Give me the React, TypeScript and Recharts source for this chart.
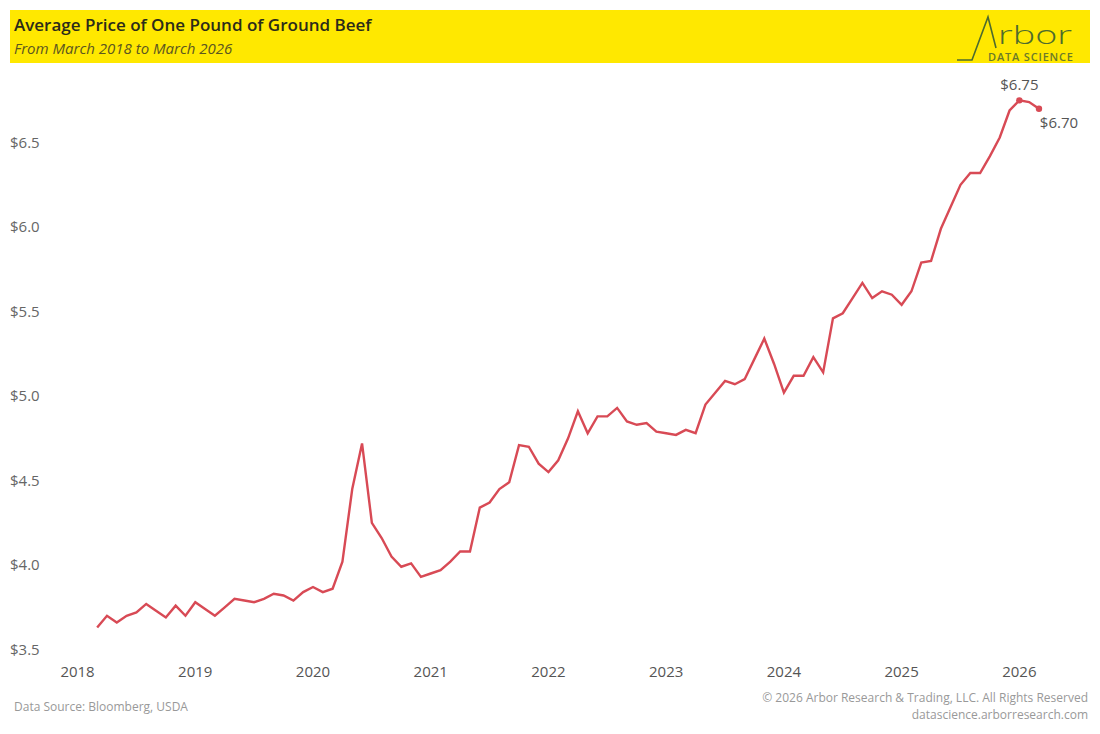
import { LabelList, Line, LineChart, XAxis, YAxis } from 'recharts'

// monthly average price, $ per lb
const p2018 = [3.63, 3.7, 3.66, 3.7, 3.72, 3.77, 3.73, 3.69, 3.76, 3.7] // Mar-Dec
const p2019 = [3.78, 3.74, 3.7, 3.75, 3.8, 3.79, 3.78, 3.8, 3.83, 3.82, 3.79, 3.84]
const p2020 = [3.87, 3.84, 3.86, 4.02, 4.45, 4.72, 4.25, 4.16, 4.05, 3.99, 4.01, 3.93]
const p2021 = [3.95, 3.97, 4.02, 4.08, 4.08, 4.34, 4.37, 4.45, 4.49, 4.71, 4.7, 4.6]
const p2022 = [4.55, 4.62, 4.75, 4.91, 4.78, 4.88, 4.88, 4.93, 4.85, 4.83, 4.84, 4.79]
const p2023 = [4.78, 4.77, 4.8, 4.78, 4.95, 5.02, 5.09, 5.07, 5.1, 5.22, 5.34, 5.19]
const p2024 = [5.02, 5.12, 5.12, 5.23, 5.14, 5.46, 5.49, 5.58, 5.67, 5.58, 5.62, 5.6]
const p2025 = [5.54, 5.62, 5.79, 5.8, 5.99, 6.12, 6.25, 6.32, 6.32, 6.42, 6.53, 6.69]
const p2026 = [6.75, 6.74, 6.7] // Jan-Mar

const xTicks = [2018, 2019, 2020, 2021, 2022, 2023, 2024, 2025, 2026]
const yTicks = [3.5, 4.0, 4.5, 5.0, 5.5, 6.0, 6.5]

const years: [number, number, number[]][] = [
  [2018, 3, p2018],
  [2019, 1, p2019],
  [2020, 1, p2020],
  [2021, 1, p2021],
  [2022, 1, p2022],
  [2023, 1, p2023],
  [2024, 1, p2024],
  [2025, 1, p2025],
  [2026, 1, p2026],
]

const data = years.flatMap(([yr, start, vals]) =>
  vals.map((v, i) => ({ t: yr + (start - 1 + i) / 12, price: v })),
)

const maxIdx = data.reduce((m, d, i) => (d.price > data[m].price ? i : m), 0)
const lastIdx = data.length - 1

const red = '#d84a55'
const green = '#4d6b2e'
const font = '"Open Sans", "Noto Sans", sans-serif'

function EndDot(props: any) {
  const { cx, cy, index } = props
  if (index !== maxIdx && index !== lastIdx) return <g key={index} />
  return <circle key={index} cx={cx} cy={cy} r={3.2} fill={red} />
}

function EndLabel(props: any) {
  const { x, y, index, value } = props
  if (index === maxIdx)
    return (
      <text x={x} y={y - 10} textAnchor="middle" fontSize={15} fill="#555" fontFamily={font}>
        ${value.toFixed(2)}
      </text>
    )
  if (index === lastIdx)
    return (
      <text x={x + 20} y={y + 19} textAnchor="middle" fontSize={15} fill="#555" fontFamily={font}>
        ${value.toFixed(2)}
      </text>
    )
  return null
}

function YTick(props: any) {
  const { y, payload } = props
  return (
    <text x={10} y={y + 5} textAnchor="start" fontSize={15} fill="#666" fontFamily={font}>
      ${payload.value.toFixed(1)}
    </text>
  )
}

export default function App() {
  return (
    <div style={{ position: 'absolute', left: 0, top: 0, width: 1100, height: 734, background: '#fff', fontFamily: font }}>
      <div style={{ position: 'absolute', left: 10, top: 10, width: 1080, height: 53, background: '#ffe800' }} />
      <div style={{ position: 'absolute', left: 14, top: 13, fontSize: 17, fontWeight: 600, color: '#2b2b1a' }}>
        Average Price of One Pound of Ground Beef
      </div>
      <div style={{ position: 'absolute', left: 14, top: 38, fontSize: 15, fontStyle: 'italic', color: '#5c5620' }}>
        From March 2018 to March 2026
      </div>
      <svg style={{ position: 'absolute', left: 950, top: 10 }} width={140} height={53}>
        <polyline points="7,50 22,50 38,7 46,38" fill="none" stroke={green} strokeWidth={1.6} />
        <text x={48} y={34} fontSize={25} fill={green} fontFamily={font} fontWeight={300} textLength={74} lengthAdjust="spacingAndGlyphs">
          rbor
        </text>
        <text x={38} y={51} fontSize={11} fill="#6b7a2a" fontFamily={font} fontWeight={600} textLength={85} lengthAdjust="spacing">
          DATA SCIENCE
        </text>
      </svg>
      <div style={{ position: 'absolute', left: 0, top: 0 }}>
        <LineChart width={1100} height={700} data={data} margin={{ top: 75, right: 10, bottom: 12, left: 0 }}>
          <XAxis
            dataKey="t"
            type="number"
            domain={[2017.8, 2026.6]}
            ticks={xTicks}
            axisLine={false}
            tickLine={false}
            height={30}
            tick={{ fontSize: 15, fill: '#555', fontFamily: font }}
          />
          <YAxis
            type="number"
            domain={[3.45, 6.9]}
            ticks={yTicks}
            axisLine={false}
            tickLine={false}
            width={54}
            tick={<YTick />}
          />
          <Line
            type="linear"
            dataKey="price"
            stroke={red}
            strokeWidth={2.4}
            dot={<EndDot />}
            activeDot={false}
            isAnimationActive={false}
          >
            <LabelList dataKey="price" content={<EndLabel />} />
          </Line>
        </LineChart>
      </div>
      <div style={{ position: 'absolute', left: 14, top: 698, fontSize: 12, color: '#999' }}>
        Data Source: Bloomberg, USDA
      </div>
      <div style={{ position: 'absolute', right: 12, top: 689, fontSize: 12, color: '#999', textAlign: 'right', lineHeight: '17px' }}>
        © 2026 Arbor Research &amp; Trading, LLC. All Rights Reserved
        <br />
        datascience.arborresearch.com
      </div>
    </div>
  )
}
